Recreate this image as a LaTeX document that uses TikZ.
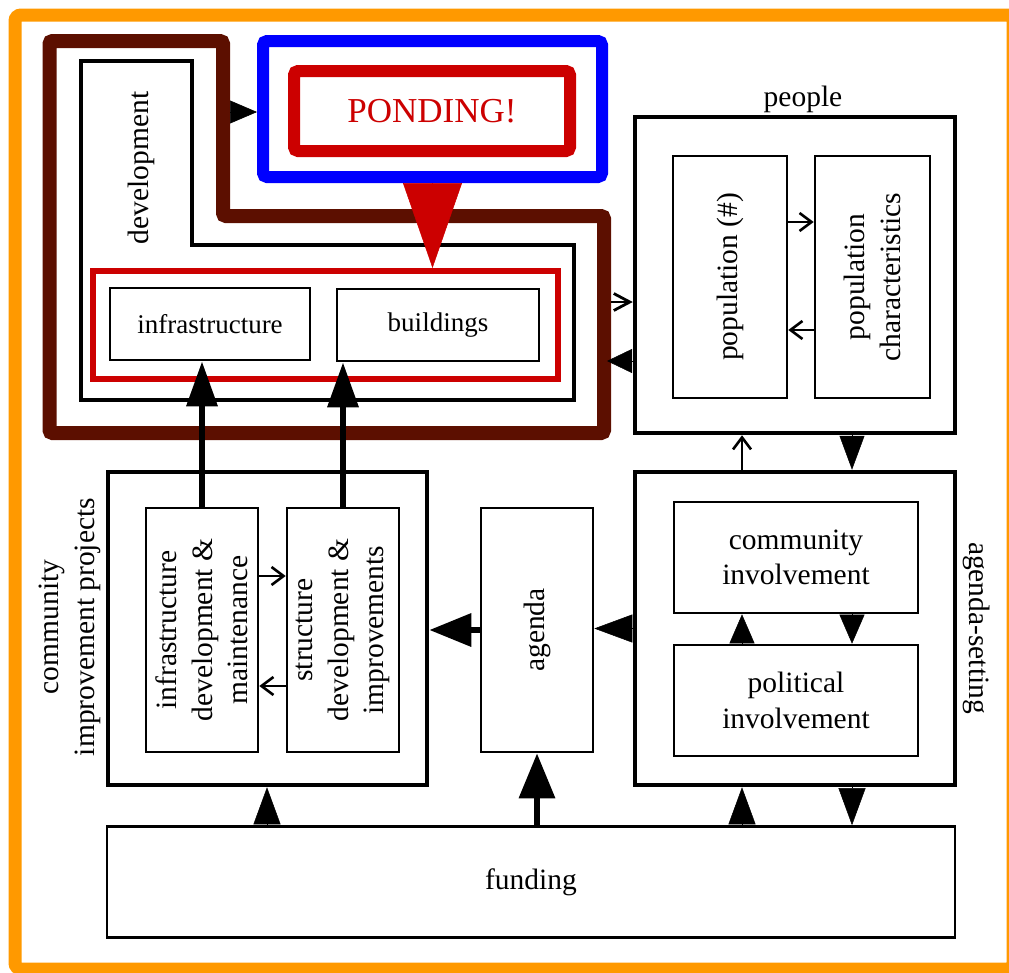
\documentclass[tikz,border=0pt]{standalone}
\usepackage{fontspec}
\setmainfont{Liberation Serif}
\usetikzlibrary{arrows.meta,calc}
\definecolor{frameorange}{RGB}{255,153,0}
\definecolor{devbrown}{RGB}{92,15,0}
\definecolor{pondred}{RGB}{204,0,0}
\definecolor{pondblue}{RGB}{0,0,255}
\newcommand\fszMain{\fontsize{29.5}{35.4}\selectfont}
\newcommand\fszSmall{\fontsize{27}{32}\selectfont}
\newcommand\fszBig{\fontsize{35}{42}\selectfont}
\begin{document}
\begin{tikzpicture}[x=1pt,y=-1pt,
  thinbox/.style={draw, line width=2.6pt, inner sep=0pt, font=\fszMain, align=center},
  thickbox/.style={draw, line width=4.5pt, inner sep=0pt},
  lbl/.style={inner sep=0pt, font=\fszMain, align=center},
  smallarr/.style={line width=2.4pt, -{Straight Barb[length=12pt,width=18pt,line width=2.6pt]}},
  tri/.style 2 args={line width=0.5pt, -{Triangle[length=#1,width=#2]}},
  thickarr/.style 2 args={line width=6.5pt, -{Triangle[length=#1,width=#2]}}
]
\useasboundingbox (0,0) rectangle (1009,972);
\clip (0,0) rectangle (1009,972);

% helper coordinates
\coordinate (colA) at (742,0);
\coordinate (colB) at (852,0);
\coordinate (colF) at (267,0);
\coordinate (rowP1) at (0,222);
\coordinate (rowP2) at (0,330);
\coordinate (rowC1) at (0,576);
\coordinate (rowC2) at (0,686);

% outer frame
\draw[frameorange, line width=13pt, rounded corners=6pt] (15,15) rectangle (1013,969);

% development area
\coordinate (bA) at (49.5,41);
\coordinate (bB) at (223,41);
\coordinate (bC) at (223,216);
\coordinate (bD) at (604,216);
\coordinate (bE) at (604,433);
\coordinate (bF) at (49.5,433);
\draw[devbrown, line width=14pt, rounded corners=3pt] (bA) -- (bB) -- (bC) -- (bD) -- (bE) -- (bF) -- cycle;
\coordinate (dA) at (81,61);
\coordinate (dB) at (192,61);
\coordinate (dC) at (192,245);
\coordinate (dD) at (574,245);
\coordinate (dE) at (574,400);
\coordinate (dF) at (81,400);
\draw[line width=3.5pt] (dA) -- (dB) -- (dC) -- (dD) -- (dE) -- (dF) -- cycle;
\node[lbl, rotate=90] (devT) at (141,168) {development};
\node[draw=pondred, line width=6pt, minimum width=465pt, minimum height=108pt, inner sep=0pt] (devred) at (325.5,325) {};
\node[thinbox, font=\fszSmall, minimum width=200pt, minimum height=72pt] (infra) at (210,324) {infrastructure};
\node[thinbox, font=\fszSmall, minimum width=202pt, minimum height=72pt] (bldg) at (438,325) {buildings};

% ponding
\node[draw=pondblue, line width=12pt, rounded corners=4pt, minimum width=339pt, minimum height=136pt, inner sep=0pt] (blue) at (432.5,109) {};
\node[draw=pondred, line width=12pt, rounded corners=4pt, minimum width=276pt, minimum height=80pt, inner sep=0pt, text=pondred, font=\fszBig] (ponding) at (432,111) {PONDING!};

% people
\node[thickbox, minimum width=320pt, minimum height=316pt] (people) at (795,275) {};
\node[lbl] (peopleT) at (803,99) {people};
\node[thinbox, minimum width=114pt, minimum height=242pt] (popn) at (730,277) {};
\node[lbl, rotate=90] (popnT) at (popn.center) {population (\#)};
\node[thinbox, minimum width=115pt, minimum height=242pt] (popc) at (872.5,277) {};
\node[lbl, rotate=90] (popcT) at (popc.center) {population\\characteristics};

% agenda-setting
\node[thickbox, minimum width=320pt, minimum height=313pt] (agset) at (795,628.5) {};
\node[thinbox, minimum width=244pt, minimum height=111pt] (comm) at (796,557.5) {community\\involvement};
\node[thinbox, minimum width=244pt, minimum height=111pt] (polit) at (796,700.5) {political\\involvement};
\node[lbl, rotate=-90] (agsetT) at (977,628) {agenda-setting};

% agenda
\node[thinbox, minimum width=112pt, minimum height=244pt] (agenda) at (537,630) {};
\node[lbl, rotate=90] (agendaT) at (agenda.center) {agenda};

% community improvement projects
\node[thickbox, minimum width=319pt, minimum height=313pt] (cip) at (267.5,628.5) {};
\node[lbl, rotate=90] (cipT) at (70,627) {community\\improvement projects};
\node[thinbox, minimum width=112pt, minimum height=244pt] (idev) at (202,630) {};
\node[lbl, rotate=90] (idevT) at (idev.center) {infrastructure\\development \&\\maintenance};
\node[thinbox, minimum width=112pt, minimum height=244pt] (sdev) at (343,630) {};
\node[lbl, rotate=90] (sdevT) at (sdev.center) {structure\\development \&\\improvements};

% funding
\node[thinbox, minimum width=848pt, minimum height=111pt] (fund) at (531,882) {funding};

% connectors
\coordinate (brownR1) at (230,112);
\draw[tri={27pt}{23pt}] (brownR1) -- (brownR1 -| blue.west);
\draw[pondred, tri={85pt}{59pt}] (blue.south) -- (blue.south |- devred.north);
\coordinate (brownR2) at (611,302);
\draw[line width=2.6pt, -{Straight Barb[length=16pt,width=17pt,line width=2.8pt]}] (brownR2) -- (brownR2 -| people.west);
\coordinate (brownR3) at (607,361);
\draw[tri={25pt}{24pt}] (brownR3 -| people.west) -- (brownR3);

\draw[smallarr] (popn.east |- rowP1) -- (popc.west |- rowP1);
\draw[smallarr] (popc.west |- rowP2) -- (popn.east |- rowP2);

\draw[smallarr] (colA |- agset.north) -- (colA |- people.south);
\draw[tri={34pt}{25pt}] (colB |- people.south) -- (colB |- agset.north);
\draw[tri={29pt}{25pt}] (colA |- polit.north) -- (colA |- comm.south);
\draw[tri={29pt}{25pt}] (colB |- comm.south) -- (colB |- polit.north);
\draw[tri={38pt}{28pt}] (agset.west) -- (agset.west -| agenda.east);
\draw[thickarr={42pt}{32pt}] (agenda.west) -- (agenda.west -| cip.east);

\draw[tri={37pt}{27pt}] (colF |- fund.north) -- (colF |- cip.south);
\draw[thickarr={45pt}{35pt}] (agenda.south |- fund.north) -- (agenda.south);
\draw[tri={37pt}{27pt}] (colA |- fund.north) -- (colA |- agset.south);
\draw[tri={37pt}{27pt}] (colB |- agset.south) -- (colB |- fund.north);

\draw[thickarr={45pt}{30pt}] (idev.north) -- (idev.north |- infra.south);
\draw[thickarr={45pt}{30pt}] (sdev.north) -- (sdev.north |- bldg.south);

\draw[smallarr] (idev.east |- rowC1) -- (sdev.west |- rowC1);
\draw[smallarr] (sdev.west |- rowC2) -- (idev.east |- rowC2);
\end{tikzpicture}
\end{document}
